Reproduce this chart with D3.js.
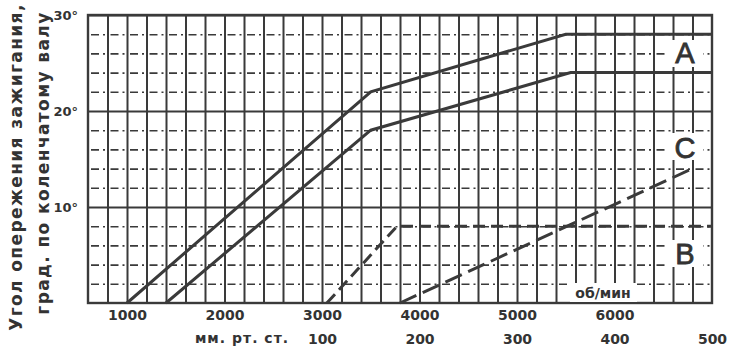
<!DOCTYPE html>
<html>
<head>
<meta charset="utf-8">
<script src="https://cdn.jsdelivr.net/npm/d3@7"></script>
<style>
  body { margin: 0; background: #fff; }
  svg text { font-family: "DejaVu Sans", sans-serif; fill: #333; }
</style>
</head>
<body>
<svg id="chart"></svg>
<script>
// tick labels
const rpmTicks = [1000, 2000, 3000, 4000, 5000, 6000];
const vacTicks = [100, 200, 300, 400, 500];
const degTicks = [10, 20, 30];
const minorDeg = [2, 4, 6, 8, 12, 14, 16, 18, 22, 24, 26, 28];

// solid curves (rpm -> degrees)
const curveA_rpm = [1000, 3500, 5500, 7000];
const curveA_deg = [0, 22, 28, 28];
const curveB_rpm = [1400, 3500, 5550, 7000];
const curveB_deg = [0, 18, 24, 24];

// dashed curve, vacuum (mm Hg -> degrees)
const vacCurve_mm = [105, 177, 500];
const vacCurve_deg = [0, 8, 8];

// long-dash curve (rpm -> degrees)
const curveC_rpm = [3800, 6800];
const curveC_deg = [0, 14];

const w = 730, h = 355;
const pLeft = 88, pRight = 712, pTop = 15, pBottom = 303;
const ink = '#3a3a3a';

const svg = d3.select('#chart')
  .attr('width', w)
  .attr('height', h);

const x = d3.scaleLinear().domain([600, 7000]).range([pLeft, pRight]);
const xv = d3.scaleLinear().domain([-140, 500]).range([pLeft, pRight]);
const y = d3.scaleLinear().domain([0, 30]).range([pBottom, pTop]);

// vertical grid every 200 rpm
svg.append('g')
  .attr('transform', `translate(0, ${pBottom})`)
  .call(d3.axisBottom(x).tickValues(d3.range(800, 7000, 200)).tickSize(-(pBottom - pTop)).tickFormat(''))
  .call(g => g.select('.domain').remove())
  .call(g => g.selectAll('line').attr('stroke', ink).attr('stroke-width', 2));

// minor horizontal dashed grid
svg.append('g')
  .attr('transform', `translate(${pLeft}, 0)`)
  .call(d3.axisLeft(y).tickValues(minorDeg).tickSize(-(pRight - pLeft)).tickFormat(''))
  .call(g => g.select('.domain').remove())
  .call(g => g.selectAll('line').attr('stroke', ink).attr('stroke-width', 1.6)
    .attr('stroke-dasharray', '8,4,2,5.5').attr('stroke-dashoffset', -3));

// major horizontal grid
svg.append('g')
  .attr('transform', `translate(${pLeft}, 0)`)
  .call(d3.axisLeft(y).tickValues(degTicks).tickSize(-(pRight - pLeft)).tickFormat(''))
  .call(g => g.select('.domain').remove())
  .call(g => g.selectAll('line').attr('stroke', ink).attr('stroke-width', 2.2));

// frame
svg.append('rect')
  .attr('x', pLeft).attr('y', pTop)
  .attr('width', pRight - pLeft).attr('height', pBottom - pTop)
  .attr('fill', 'none').attr('stroke', ink).attr('stroke-width', 2.4);

// white patches behind inner labels
const patches = [
  { x: 667, y: 40, w: 36, h: 27 },
  { x: 667, y: 133, w: 36, h: 27 },
  { x: 667, y: 240, w: 36, h: 27 },
  { x: 570, y: 283, w: 67, h: 19 }
];
svg.selectAll('rect.patch')
  .data(patches)
  .enter()
  .append('rect')
  .attr('class', 'patch')
  .attr('x', d => d.x).attr('y', d => d.y)
  .attr('width', d => d.w).attr('height', d => d.h)
  .attr('fill', '#fff');

// curves
const line = d3.line().x(d => d[0]).y(d => d[1]);
const series = [
  { pts: curveA_rpm.map((r, i) => [x(r), y(curveA_deg[i])]), dash: null },
  { pts: curveB_rpm.map((r, i) => [x(r), y(curveB_deg[i])]), dash: null },
  { pts: vacCurve_mm.map((v, i) => [xv(v), y(vacCurve_deg[i])]), dash: '12,6' },
  { pts: curveC_rpm.map((r, i) => [x(r), y(curveC_deg[i])]), dash: '18,7' }
];
svg.selectAll('path.curve')
  .data(series)
  .enter()
  .append('path')
  .attr('class', 'curve')
  .attr('d', d => line(d.pts))
  .attr('fill', 'none')
  .attr('stroke', ink)
  .attr('stroke-width', 3)
  .attr('stroke-dasharray', d => d.dash);

// curve letters
const letters = [['A', 685, 63], ['C', 685, 158], ['B', 685, 264]];
svg.selectAll('text.letter')
  .data(letters)
  .enter()
  .append('text')
  .attr('class', 'letter')
  .attr('x', d => d[1]).attr('y', d => d[2])
  .attr('text-anchor', 'middle')
  .style('font-family', '"Liberation Sans", sans-serif')
  .style('font-size', '29px')
  .attr('stroke', '#333').attr('stroke-width', 0.8)
  .text(d => d[0]);

svg.append('text')
  .attr('x', 603).attr('y', 298)
  .attr('text-anchor', 'middle')
  .style('font-size', '14px').style('font-weight', 'bold')
  .text('об/мин');

// y tick labels
svg.append('g')
  .attr('transform', `translate(${pLeft - 7}, 0)`)
  .call(d3.axisLeft(y).tickValues(degTicks).tickSize(0).tickFormat(d => d + '°'))
  .call(g => g.select('.domain').remove())
  .call(g => g.selectAll('text').style('font-size', '13px').style('font-weight', 'bold').attr('fill', '#333'));

// rpm labels
svg.append('g')
  .attr('transform', `translate(0, ${pBottom + 4})`)
  .call(d3.axisBottom(x).tickValues(rpmTicks).tickSize(0).tickFormat(d3.format('d')))
  .call(g => g.select('.domain').remove())
  .call(g => g.selectAll('text').style('font-size', '14px').style('font-weight', 'bold').attr('fill', '#333'));

// vacuum labels
svg.append('g')
  .attr('transform', `translate(0, ${pBottom + 28})`)
  .call(d3.axisBottom(xv).tickValues(vacTicks).tickSize(0).tickFormat(d3.format('d')))
  .call(g => g.select('.domain').remove())
  .call(g => g.selectAll('text').style('font-size', '14px').style('font-weight', 'bold').attr('fill', '#333'));

svg.append('text')
  .attr('x', 242).attr('y', 343)
  .attr('text-anchor', 'middle')
  .style('font-size', '14px').style('font-weight', 'bold')
  .style('letter-spacing', '1px')
  .text('мм. рт. ст.');

// y title, two lines
const yTitle = [['Угол опережения зажигания,', 22, 167], ['град. по коленчатому валу', 49, 163]];
svg.selectAll('text.ytitle')
  .data(yTitle)
  .enter()
  .append('text')
  .attr('class', 'ytitle')
  .attr('transform', d => `translate(${d[1]}, ${d[2]}) rotate(-90)`)
  .attr('text-anchor', 'middle')
  .style('font-size', '17px').style('font-weight', 'bold')
  .style('letter-spacing', '1.4px')
  .text(d => d[0]);
</script>
</body>
</html>
